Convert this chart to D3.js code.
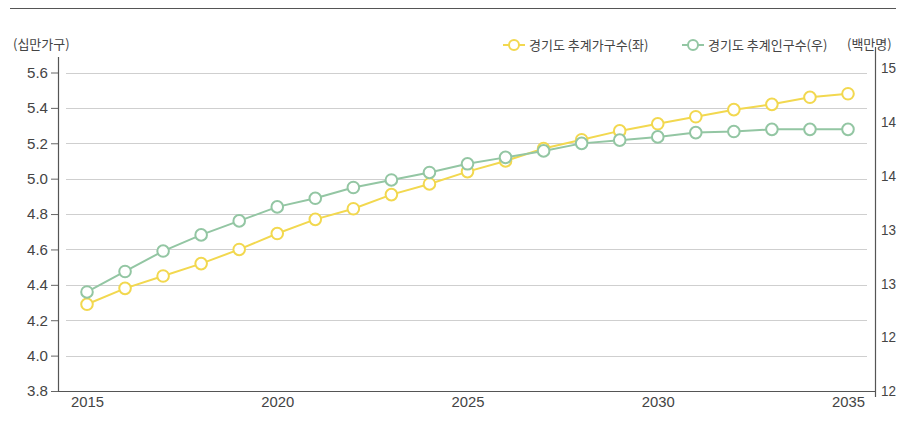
<!DOCTYPE html>
<html><head><meta charset="utf-8">
<script src="https://cdn.jsdelivr.net/npm/d3@7"></script>
<style>body{margin:0;background:#fff;}svg{display:block;font-family:"Noto Sans CJK KR","Noto Sans",sans-serif;}</style>
</head><body>
<svg id="c" width="906" height="432"></svg>
<script>
const years = d3.range(2015, 2036);
const households = [4.29,4.38,4.45,4.52,4.60,4.69,4.77,4.83,4.91,4.97,5.04,5.10,5.17,5.22,5.27,5.31,5.35,5.39,5.42,5.46,5.48];
const population = [12.92,13.11,13.30,13.45,13.58,13.71,13.79,13.89,13.96,14.03,14.11,14.17,14.23,14.30,14.33,14.36,14.40,14.41,14.43,14.43,14.43];
const leftTicks = [3.8,4.0,4.2,4.4,4.6,4.8,5.0,5.2,5.4,5.6];
const rightTicks = [12,12.5,13,13.5,14,14.5,15];
const rightTickLabels = ["12","12","13","13","14","14","15"];
const xTicks = [2015,2020,2025,2030,2035];
const seriesNames = ["경기도 추계가구수(좌)","경기도 추계인구수(우)"];
const leftUnit = "(십만가구)", rightUnit = "(백만명)";

const colY = "#f2d84f", colG = "#93c6a3";
const numFont = "'Liberation Sans',Arial,sans-serif";
const svg = d3.select("#c");
const x = d3.scaleLinear().domain([2015,2035]).range([87,848]);
const yL = d3.scaleLinear().domain([3.8,5.6]).range([391,72.5]);
const yR = d3.scaleLinear().domain([12,15]).range([391,68]);

// top rule
svg.append("line").attr("x1",10).attr("x2",896).attr("y1",8.5).attr("y2",8.5).attr("stroke","#555").attr("stroke-width",1);

// gridlines
svg.append("g").selectAll("line").data(leftTicks.slice(1)).join("line")
  .attr("x1",66).attr("x2",867).attr("y1",d=>Math.round(yL(d))+0.5).attr("y2",d=>Math.round(yL(d))+0.5)
  .attr("stroke","#cfcfcf").attr("stroke-width",1);

// left axis
const gL = svg.append("g").attr("transform","translate(58,0)")
  .call(d3.axisLeft(yL).tickValues(leftTicks).tickFormat(d3.format(".1f")).tickSize(7).tickPadding(3));
gL.select(".domain").remove();
gL.selectAll(".tick line").attr("stroke","#666");
gL.selectAll("text").attr("fill","#444").style("font-family",numFont).attr("font-size",15).attr("textLength",21).attr("lengthAdjust","spacingAndGlyphs");
svg.append("line").attr("x1",58.5).attr("x2",58.5).attr("y1",57).attr("y2",391).attr("stroke","#555").attr("stroke-width",1.2);

// right axis
const gR = svg.append("g").attr("transform","translate(875,0)")
  .call(d3.axisRight(yR).tickValues(rightTicks).tickFormat((d,i)=>rightTickLabels[i]).tickSize(0).tickPadding(6));
gR.select(".domain").remove();
gR.selectAll("text").attr("fill","#444").style("font-family",numFont).attr("font-size",15).attr("textLength",15).attr("lengthAdjust","spacingAndGlyphs");

svg.append("line").attr("x1",875.5).attr("x2",875.5).attr("y1",47).attr("y2",397).attr("stroke","#555").attr("stroke-width",1.2);

// bottom axis
const gB = svg.append("g").attr("transform","translate(0,391)")
  .call(d3.axisBottom(x).tickValues(xTicks).tickFormat(d3.format("d")).tickSize(0).tickPadding(5));
gB.select(".domain").remove();
gB.selectAll("text").attr("fill","#444").style("font-family",numFont).attr("font-size",15).attr("textLength",33).attr("lengthAdjust","spacingAndGlyphs");
svg.append("line").attr("x1",58).attr("x2",875).attr("y1",391.5).attr("y2",391.5).attr("stroke","#555").attr("stroke-width",1.2);

// units
svg.append("text").attr("x",13).attr("y",49).text(leftUnit).attr("fill","#444").attr("font-size",13);
svg.append("text").attr("x",847).attr("y",49).text(rightUnit).attr("fill","#444").attr("font-size",13);

function drawSeries(vals, scale, col){
  const line = d3.line().x((d,i)=>x(years[i])).y(d=>scale(d));
  svg.append("path").datum(vals).attr("d",line).attr("fill","none").attr("stroke",col).attr("stroke-width",2);
  svg.append("g").selectAll("circle").data(vals).join("circle")
    .attr("cx",(d,i)=>x(years[i])).attr("cy",d=>scale(d)).attr("r",5.8)
    .attr("fill","#fff").attr("stroke",col).attr("stroke-width",2);
}
drawSeries(households, yL, colY);
drawSeries(population, yR, colG);

// legend
const leg = [{name:seriesNames[0],col:colY,x:503},{name:seriesNames[1],col:colG,x:682}];
leg.forEach(l=>{
  const g = svg.append("g").attr("transform",`translate(${l.x},45)`);
  g.append("line").attr("x1",0).attr("x2",22).attr("stroke",l.col).attr("stroke-width",2);
  g.append("circle").attr("cx",11).attr("r",5).attr("fill","#fff").attr("stroke",l.col).attr("stroke-width",2);
  g.append("text").attr("x",26).attr("y",4.5).text(l.name).attr("fill","#444").attr("font-size",13);
});
</script>
</body></html>
